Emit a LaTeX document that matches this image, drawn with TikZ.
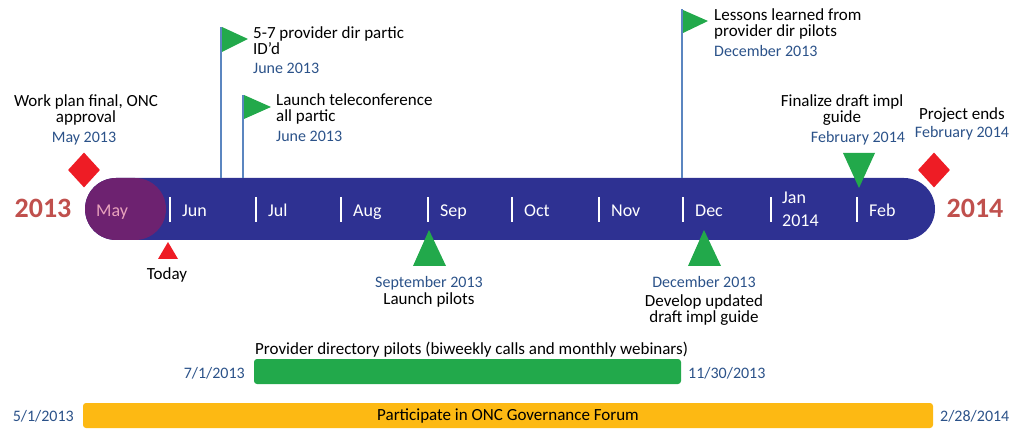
\documentclass[tikz,border=0pt]{standalone}
\usepackage{fontspec}
\setmainfont{Carlito}
\usepackage{xcolor}
\usetikzlibrary{positioning, shapes.geometric}
\definecolor{barblue}{HTML}{2E3192}
\definecolor{maypurple}{HTML}{6D2270}
\definecolor{maytext}{HTML}{E8A2BC}
\definecolor{yearred}{HTML}{C0504D}
\definecolor{dateblue}{HTML}{2B5289}
\definecolor{poleblue}{HTML}{5B86C0}
\definecolor{flaggreen}{HTML}{22A94B}
\definecolor{markred}{HTML}{EE1C25}
\definecolor{forumgold}{HTML}{FDB913}

\begin{document}
\begin{tikzpicture}[
    x=1pt, y=-1pt,
    lbl/.style={font=\fontsize{17}{16.5}\selectfont, inner sep=0pt, align=center},
    datelbl/.style={font=\fontsize{16}{17}\selectfont, text=dateblue, inner sep=0pt},
    month/.style={font=\fontsize{18}{23}\selectfont, text=white, inner sep=0pt, anchor=base west},
    yearlbl/.style={font=\fontsize{28}{30}\selectfont\bfseries, text=yearred, inner sep=0pt, anchor=base},
    tickline/.style={draw=white, line width=1.6pt},
    pole/.style={draw=poleblue, line width=2pt},
    flag/.style={fill=flaggreen},
    spanbar/.style={rounded corners=3pt, minimum height=25pt, inner sep=0pt},
    spanlbl/.style={font=\fontsize{17}{18}\selectfont, inner sep=0pt},
  ]
  \useasboundingbox (0,0) rectangle (1012,430);

  % Timeline bar
  \node[fill=barblue, rounded corners=31pt, minimum width=850pt, minimum height=62pt, inner sep=0pt] (bar) at (510,209) {};
  \node[fill=maypurple, rounded corners=31pt, minimum width=81pt, minimum height=62pt, inner sep=0pt] (may) at (125.5,209) {};
  \node[month, text=maytext] (maylbl) at (96,217) {May};

  % Months
  \foreach \x/\m [count=\i] in {170/Jun, 256/Jul, 341/Aug, 428/Sep, 512/Oct, 599/Nov, 683/Dec, 857/Feb} {
    \draw[tickline] (\x,197) -- (\x,222);
    \node[month] (m\i) at (\x+12,217) {\m};
  }
  \draw[tickline] (771,197) -- (771,222);
  \node[month, align=left] (jan) at (782,227) {Jan\\2014};

  % Years
  \node[yearlbl] (y2013) at (43,218) {2013};
  \node[yearlbl] (y2014) at (975,218) {2014};

  % Start / end
  \node[diamond, fill=markred, minimum width=32pt, minimum height=35pt, inner sep=0pt] (start) at (84,170) {};
  \node[lbl, anchor=base] (workplan) at (86,123) {Work plan final, ONC\\approval};
  \node[datelbl, anchor=base] (workdate) at (84,143) {May 2013};

  \node[diamond, fill=markred, minimum width=32pt, minimum height=35pt, inner sep=0pt] (finish) at (934,170) {};
  \node[lbl, anchor=base] (ends) at (962,120) {Project ends};
  \node[datelbl, anchor=base] (enddate) at (962,138) {February 2014};

  % Today
  \fill[markred] (168,242) -- (178,259) -- (158,259) -- cycle;
  \node[lbl, anchor=base] (today) at (167,280) {Today};

  % Flags
  \coordinate (f1) at (221,27);
  \draw[pole] (bar.north -| f1) -- (f1);
  \fill[flag] (222,27) -- (248,39) -- (222,52) -- cycle;
  \node[lbl, align=left, anchor=base west] (f1txt) at (253,55) {5-7 provider dir partic\\ID'd};
  \node[datelbl, anchor=base west] (f1date) at (253,74) {June 2013};

  \coordinate (f2) at (243,95);
  \draw[pole] (bar.north -| f2) -- (f2);
  \fill[flag] (244,95) -- (271,107) -- (244,119) -- cycle;
  \node[lbl, align=left, anchor=base west] (f2txt) at (276,122) {Launch teleconference\\all partic};
  \node[datelbl, anchor=base west] (f2date) at (276,142) {June 2013};

  \coordinate (f3) at (682,9);
  \draw[pole] (bar.north -| f3) -- (f3);
  \fill[flag] (683,10) -- (708,21) -- (683,33) -- cycle;
  \node[lbl, align=left, anchor=base west] (f3txt) at (714,37) {Lessons learned from\\provider dir pilots};
  \node[datelbl, anchor=base west] (f3date) at (714,57) {December 2013};

  % Finalize
  \fill[flaggreen] (843,153) -- (875,153) -- (859,188) -- cycle;
  \node[lbl, anchor=base] (final) at (842,123) {Finalize draft impl\\guide};
  \node[datelbl, anchor=base] (finaldate) at (858,143) {February 2014};

  % Milestones below
  \fill[flaggreen] (429,230) -- (446,266) -- (413,266) -- cycle;
  \node[datelbl, anchor=base] (sepdate) at (429,288) {September 2013};
  \node[lbl, anchor=base] (pilots) at (429,305) {Launch pilots};

  \fill[flaggreen] (704,230) -- (721,266) -- (688,266) -- cycle;
  \node[datelbl, anchor=base] (decdate) at (704,288) {December 2013};
  \node[lbl, anchor=base] (update) at (704,323) {Develop updated\\draft impl guide};

  % Spans
  \node[spanlbl, anchor=base west] (pilottxt) at (255,354) {Provider directory pilots (biweekly calls and monthly webinars)};
  \node[spanbar, fill=flaggreen, minimum width=427pt] (pilotbar) at (467.5,371.5) {};
  \node[datelbl, anchor=base east] at (245,378) {7/1/2013};
  \node[datelbl, anchor=base west] at (688,378) {11/30/2013};

  \node[spanbar, fill=forumgold, minimum width=850pt, spanlbl] (forum) at (508,415.5) {Participate in ONC Governance Forum};
  \node[datelbl, anchor=base east] at (74,421) {5/1/2013};
  \node[datelbl, anchor=base west] at (940,421) {2/28/2014};

\end{tikzpicture}
\end{document}
